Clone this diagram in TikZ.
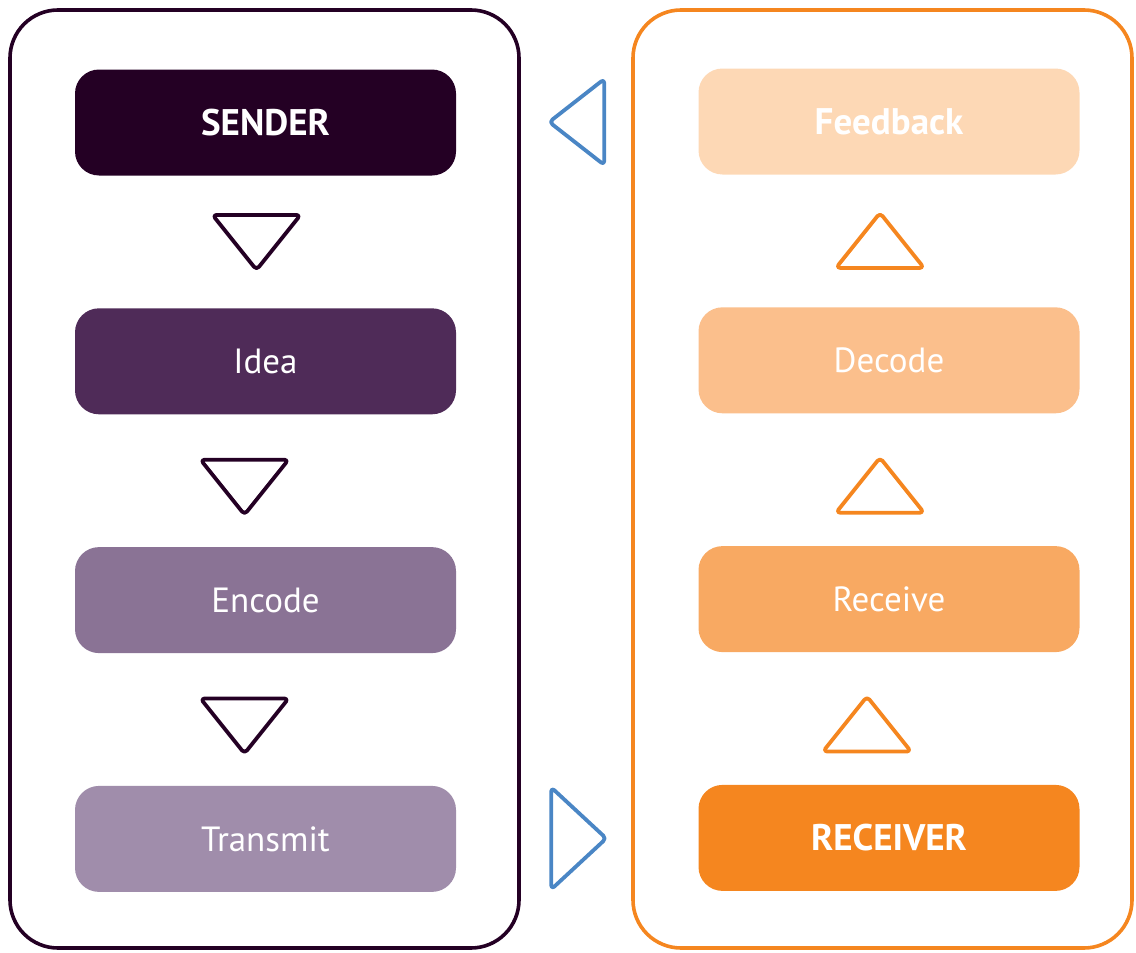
\documentclass[tikz,border=0pt]{standalone}
\usepackage{fontspec}
\setmainfont{PT Sans}
\usetikzlibrary{positioning,calc}

\definecolor{sendcol}{HTML}{240024}
\definecolor{ideacol}{HTML}{4F2B58}
\definecolor{enccol}{HTML}{8A7395}
\definecolor{transcol}{HTML}{A08DAB}
\definecolor{feedcol}{HTML}{FDD8B5}
\definecolor{deccol}{HTML}{FBBF8C}
\definecolor{reccol}{HTML}{F8A962}
\definecolor{orcol}{HTML}{F5861F}
\definecolor{bluecol}{HTML}{4A86C5}

\tikzset{
  tridown/.pic={\draw[tri] (-44,-27) -- (44,-27) -- (0,28) -- cycle;},
  triup/.pic={\draw[tri] (-44,27) -- (44,27) -- (0,-28) -- cycle;},
}

\begin{document}
\begin{tikzpicture}[
    x=0.5pt, y=-0.5pt,
    node distance=66pt,
    box/.style={ rounded corners=12pt,
      text=white,
      anchor=center,
      align=center,
      font=\fontsize{17.5}{20}\selectfont,
      minimum height=53pt,
      minimum width=190.5pt},
    boldbox/.style={box, font=\fontsize{18.5}{20}\selectfont\bfseries},
    frame/.style={line width=1.8pt, rounded corners=24pt},
    tri/.style={line width=1.9pt, line join=round, rounded corners=2pt}]
    \useasboundingbox (0,0) rectangle (1136,953);

    % sender side
    \draw[frame, draw=sendcol] (10,10) rectangle (519,948);
    \node[boldbox, fill=sendcol] (S) at (265.5,122.5) {SENDER};
    \node[box, fill=ideacol, below=of S] (I) {Idea};
    \node[box, fill=enccol, below=of I] (E) {Encode};
    \node[box, fill=transcol, below=of E] (T) {Transmit};

    % receiver side
    \draw[frame, draw=orcol] (633,10) rectangle (1132,948);
    \node[boldbox, fill=feedcol] (F) at (889,121.5) {Feedback};
    \node[box, fill=deccol, below=of F] (D) {Decode};
    \node[box, fill=reccol, below=of D] (Rc) {Receive};
    \node[boldbox, fill=orcol, below=of Rc] (R) {RECEIVER};

    \pic[color=sendcol, xshift=-4.5pt] at ($(S.south)!0.5!(I.north)$) {tridown};
    \pic[color=sendcol, xshift=-10.5pt, yshift=-3pt] at ($(I.south)!0.5!(E.north)$) {tridown};
    \pic[color=sendcol, xshift=-10.5pt, yshift=-3pt] at ($(E.south)!0.5!(T.north)$) {tridown};

    \pic[color=orcol, xshift=-4.5pt] at ($(F.south)!0.5!(D.north)$) {triup};
    \pic[color=orcol, xshift=-4.5pt, yshift=-3pt] at ($(D.south)!0.5!(Rc.north)$) {triup};
    \pic[color=orcol, xshift=-11pt, yshift=-3pt] at ($(Rc.south)!0.5!(R.north)$) {triup};

    % feedback and transmission markers
    \draw[tri, draw=bluecol] ($(S.east)!0.5!(F.west)+(27,-43)$) -- ++(0,86) -- ++(-55,-43) -- cycle;
    \draw[tri, draw=bluecol] ($(T.east)!0.5!(R.west)+(-26,-51)$) -- ++(0,102) -- ++(55,-51) -- cycle;
\end{tikzpicture}
\end{document}
